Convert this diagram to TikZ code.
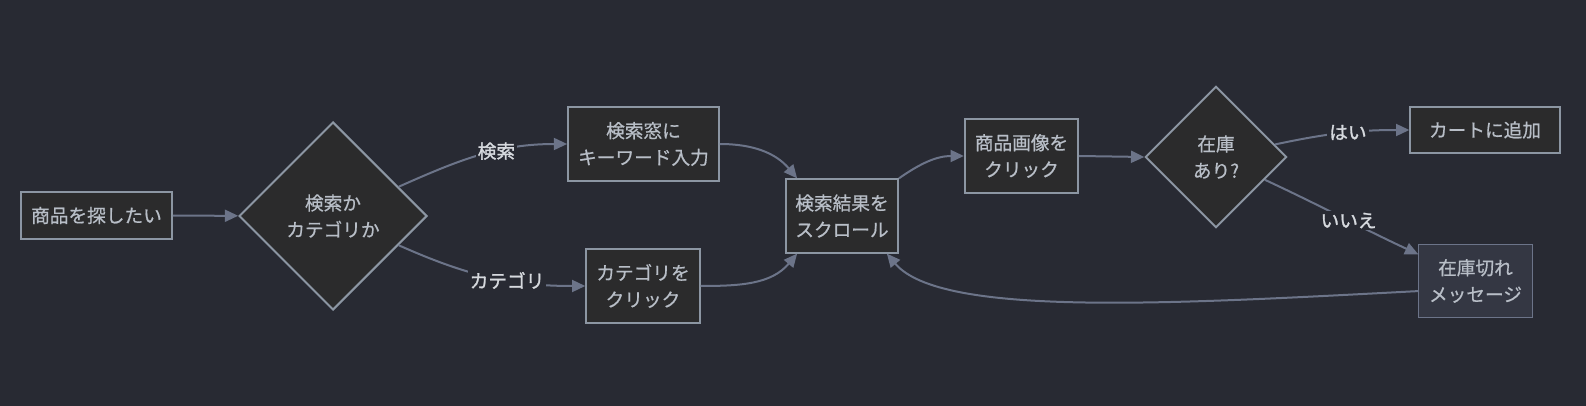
\documentclass[tikz,border=0pt]{standalone}
\usepackage{fontspec}
\setmainfont{Noto Sans CJK JP}[FakeBold=0.7]
\newfontfamily\lblfont{Noto Sans CJK JP}[FakeBold=1.4]
\usetikzlibrary{shapes.geometric, arrows.meta, positioning}

\definecolor{bgcol}{HTML}{282A33}
\definecolor{boxfill}{HTML}{2B2B2C}
\definecolor{boxline}{HTML}{8C96A3}
\definecolor{edgecol}{HTML}{6C7489}
\definecolor{textcol}{HTML}{B8BEC7}
\definecolor{lblcol}{HTML}{D6D9DE}
\definecolor{altfill}{HTML}{343743}

\begin{document}
\begin{tikzpicture}[x=0.75pt, y=0.75pt]
  \tikzstyle{stepbox} = [rectangle, minimum height=35pt, inner xsep=7pt, align=center, draw=boxline, line width=1.5pt, fill=boxfill, text=textcol, font=\fontsize{14pt}{20pt}\selectfont]
  \tikzstyle{twoline} = [minimum height=56pt]
  \tikzstyle{decision} = [diamond, aspect=1, inner sep=0pt, align=center, draw=boxline, line width=1.5pt, fill=boxfill, text=textcol, font=\fontsize{14pt}{20pt}\selectfont]
  \tikzstyle{notebox} = [stepbox, draw=edgecol, line width=0.8pt, fill=altfill]
  \tikzstyle{lbl} = [fill=bgcol, inner sep=1.5pt, text=lblcol, font=\lblfont\fontsize{14pt}{16pt}\selectfont]
  \tikzstyle{connector} = [line width=1.5pt, draw=edgecol, -{Triangle[length=10pt, width=9pt]}]

  % Background
  \fill[bgcol] (0,0) rectangle (1586,-406);
  \useasboundingbox (0,0) rectangle (1586,-406);

  % Start and first choice
  \node (want) at (96.5,-215.5) [stepbox, minimum width=113pt] {商品を探したい};
  \node (choice) at (333,-216) [decision, minimum width=141pt, minimum height=141pt] {検索か\\カテゴリか};

  % Two ways to find goods
  \node (keyword) at (643.5,-144) [stepbox, twoline, minimum width=113pt] {検索窓に\\キーワード入力};
  \node (catclick) at (643,-286) [stepbox, twoline, minimum width=85pt] {カテゴリを\\クリック};

  % Results and product
  \node (scroll) at (842,-216) [stepbox, twoline, minimum width=84pt, minimum height=55pt] {検索結果を\\スクロール};
  \node (imgclick) at (1021.5,-156) [stepbox, twoline, minimum width=85pt] {商品画像を\\クリック};
  \node (stock) at (1216,-157) [decision, minimum width=106pt, minimum height=106pt] {在庫\\あり?};

  % Outcomes
  \node (cart) at (1485,-130) [stepbox, minimum width=112pt] {カートに追加};
  \node (soldout) at (1475.5,-281) [notebox, twoline, minimum width=85pt, minimum height=55pt] {在庫切れ\\メッセージ};

  % Arrows
  \draw[connector] (want) -- (choice);
  \draw[connector] (choice) to[out=24, in=180] node[lbl, pos=0.6] {検索} (keyword.west);
  \draw[connector] (choice) to[out=-24, in=180] node[lbl, pos=0.6] {カテゴリ} (catclick.west);
  \draw[connector] (keyword.east) to[out=0, in=130] (scroll.140);
  \draw[connector] (catclick.east) to[out=0, in=-130] (scroll.220);
  \draw[connector] (scroll.north east) to[out=35, in=180] (imgclick.west);
  \draw[connector] (imgclick.east) -- (stock.west);
  \draw[connector] (stock) to[out=12, in=180] node[lbl, pos=0.55] {はい} (cart.west);
  \draw[connector] (stock) to[out=-25, in=155] node[lbl, pos=0.55] {いいえ} (soldout.155);
  \draw[connector] (soldout.190) to[out=183, in=-50, out looseness=1.2, in looseness=0.4] (scroll.-40);
\end{tikzpicture}
\end{document}
